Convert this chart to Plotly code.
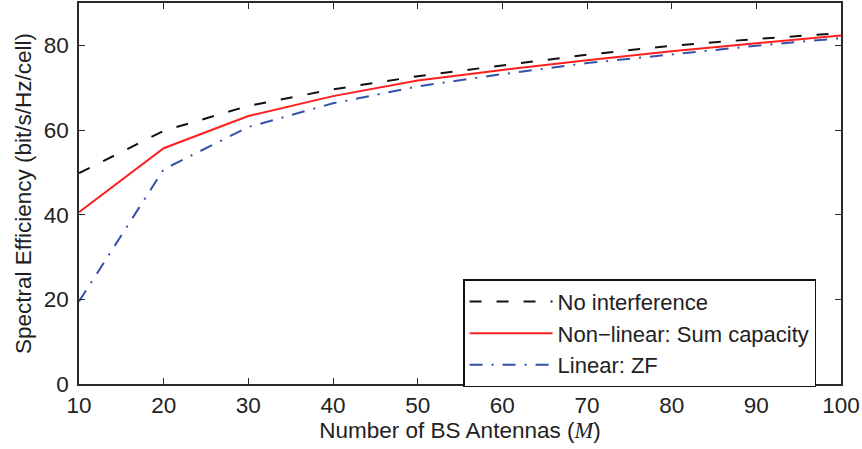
import plotly.graph_objects as go

antennas = [10, 20, 30, 40, 50, 60, 70, 80, 90, 100]
no_interference = [49.8, 59.8, 65.7, 69.6, 72.7, 75.3, 77.8, 79.9, 81.5, 82.9]
nonlinear_sum_capacity = [40.6, 55.7, 63.3, 68.0, 71.7, 74.2, 76.5, 78.6, 80.5, 82.3]
linear_zf = [19.5, 50.7, 60.7, 66.3, 70.3, 73.2, 75.8, 77.9, 79.9, 81.7]

x_ticks = [10, 20, 30, 40, 50, 60, 70, 80, 90, 100]
y_ticks = [0, 20, 40, 60, 80]

FONT = "Liberation Sans, Arial, Helvetica, sans-serif"
FS = 22.5
TXT = "#222222"

fig = go.Figure()
fig.add_trace(go.Scatter(x=antennas, y=no_interference, mode="lines",
                         name="No interference",
                         line=dict(color="#111111", width=2, dash="12px,15px")))
fig.add_trace(go.Scatter(x=antennas, y=nonlinear_sum_capacity, mode="lines",
                         name="Non\u2212linear: Sum capacity",
                         line=dict(color="#ff1f1f", width=2)))
fig.add_trace(go.Scatter(x=antennas, y=linear_zf, mode="lines",
                         name="Linear: ZF",
                         line=dict(color="#3352a8", width=2, dash="13px,9px,2px,9px")))

axis_common = dict(
    showgrid=False, zeroline=False, showline=True, linecolor="#2a2a2a", linewidth=1.5,
    mirror="allticks", ticks="inside", ticklen=6, tickwidth=1, tickcolor="#2a2a2a",
    tickfont=dict(family=FONT, size=FS, color=TXT), automargin=False,
)

fig.update_xaxes(range=[10, 100], tickvals=x_ticks, ticktext=[str(v) for v in x_ticks],
                 title=dict(text="Number of BS Antennas (<i><span style=\"font-family:'Liberation Serif', serif\">M</span></i>)",
                            font=dict(family=FONT, size=FS, color=TXT), standoff=2),
                 **axis_common)
fig.update_yaxes(range=[0, 90], tickvals=y_ticks, ticktext=[str(v) for v in y_ticks],
                 title=dict(text="Spectral Efficiency (bit/s/Hz/cell)",
                            font=dict(family=FONT, size=FS, color=TXT), standoff=6),
                 ticklabelstandoff=4,
                 **axis_common)

fig.update_layout(
    width=862, height=449,
    margin=dict(l=79, r=21, t=3, b=65),
    paper_bgcolor="white", plot_bgcolor="white",
    font=dict(family=FONT, size=FS, color=TXT),
    legend=dict(x=0.504, y=0.275, xanchor="left", yanchor="top",
                bgcolor="white", bordercolor="#111111", borderwidth=1.5,
                font=dict(family=FONT, size=22, color=TXT),
                itemwidth=83, tracegroupgap=0),
    showlegend=True,
)

fig.write_html("out.html", config={"displayModeBar": False},
               post_script="document.body.style.margin='0';")
